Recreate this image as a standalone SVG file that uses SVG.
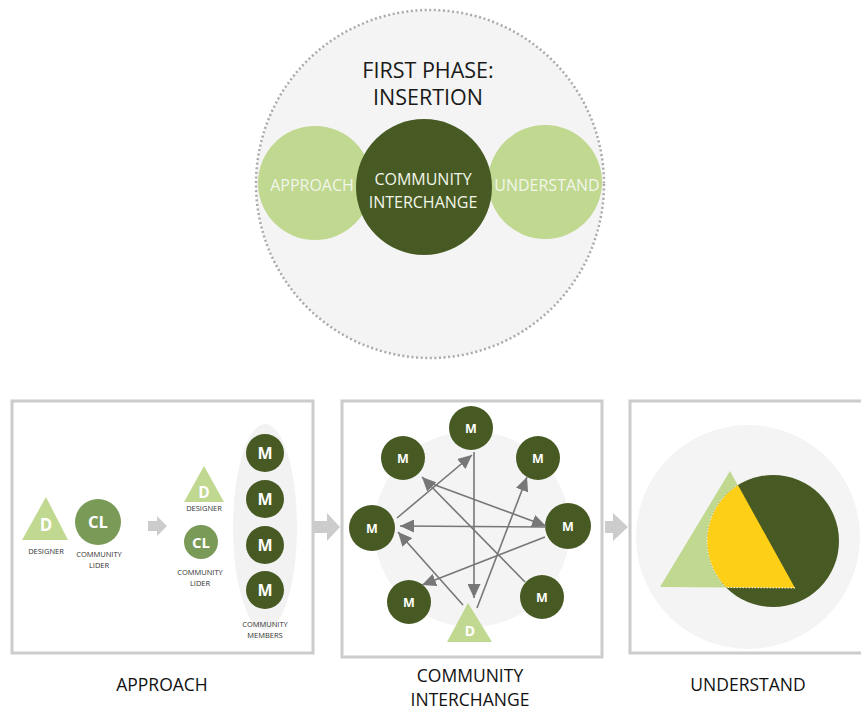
<svg xmlns="http://www.w3.org/2000/svg" width="861" height="712" viewBox="0 0 861 712">
<style>
  .dk{fill:#475a23}
  .lg{fill:#c0d890}
  .md{fill:#7a9a58}
  .bg{fill:#f4f4f4}
  .box{fill:#ffffff;stroke:#cccccc;stroke-width:3}
  .blk{fill:#cccccc}
  .t{font-family:"Open Sans","Liberation Sans",sans-serif;text-anchor:middle}
  .ttl{font-size:21.5px;fill:#1a1a1a}
  .tin{font-size:16px;fill:#f2f6ea}
  .lbl{font-size:17.5px;fill:#111111}
  .sm{font-size:7.5px;fill:#333333}
  .w{fill:#ffffff;font-weight:bold}
  .cn{stroke:#777777;stroke-width:1.6;fill:none;marker-end:url(#ah)}
</style>
<defs>
  <marker id="ah" markerUnits="userSpaceOnUse" markerWidth="15" markerHeight="13" refX="14" refY="6.5" orient="auto">
    <path d="M0,0 L14,6.5 L0,13 Z" fill="#777777"/>
  </marker>
</defs>
<rect width="861" height="712" fill="#ffffff"/>

<!-- Top phase -->
<g id="phase">
  <circle cx="430" cy="184" r="174" fill="#f4f4f4" stroke="#aaaaaa" stroke-width="2.5" stroke-dasharray="2 2.6"/>
  <text class="t ttl" x="428" y="78">FIRST PHASE:</text>
  <text class="t ttl" x="428" y="105">INSERTION</text>
</g>
<g id="top-approach">
  <circle class="lg" cx="315" cy="183" r="57"/>
  <text class="t tin" x="312" y="191">APPROACH</text>
</g>
<g id="top-understand">
  <circle class="lg" cx="545" cy="182" r="57"/>
  <text class="t tin" x="547" y="191">UNDERSTAND</text>
</g>
<g id="top-interchange">
  <circle class="dk" cx="424" cy="187" r="68"/>
  <text class="t tin" x="423" y="185" font-size="17.5">COMMUNITY</text>
  <text class="t tin" x="423" y="208" font-size="17.5">INTERCHANGE</text>
</g>

<!-- Boxes -->
<g id="box-approach">
  <rect class="box" x="12" y="401" width="301" height="252"/>
  <polygon class="blk" points="148,521 157,521 157,516 167,526 157,536 157,531 148,531"/>
  <ellipse cx="265" cy="527" rx="32" ry="103" fill="#f2f2f2"/>
</g>
<g id="box-interchange">
  <rect class="box" x="342" y="401" width="260" height="256"/>
  <circle class="bg" cx="472" cy="529" r="98"/>
</g>
<g id="box-understand">
  <rect class="box" x="630" y="401" width="240" height="252"/>
  <circle class="bg" cx="748" cy="537" r="112"/>
</g>
<g id="flow-arrows">
  <polygon class="blk" points="313,521 327,521 327,513 340,527 327,541 327,533 313,533"/>
  <polygon class="blk" points="605,521 613,521 613,513 628,527 613,541 613,533 605,533"/>
</g>

<!-- Approach box nodes -->
<g id="a-designer">
  <polygon class="lg" points="46,497 22,540 68,540"/>
  <text class="t w" x="46" y="531" font-size="17">D</text>
  <text class="t sm" x="46" y="554">DESIGNER</text>
</g>
<g id="a-leader">
  <circle class="md" cx="98" cy="522" r="23"/>
  <text class="t w" x="98" y="528" font-size="16.5">CL</text>
  <text class="t sm" x="99" y="557">COMMUNITY</text>
  <text class="t sm" x="99" y="568">LIDER</text>
</g>
<g id="a-designer2">
  <polygon class="lg" points="204,466 184,502 224,502"/>
  <text class="t w" x="204" y="498" font-size="15.5">D</text>
  <text class="t sm" x="204" y="511">DESIGNER</text>
</g>
<g id="a-leader2">
  <circle class="md" cx="201" cy="542" r="17"/>
  <text class="t w" x="201" y="548" font-size="15">CL</text>
  <text class="t sm" x="200" y="575">COMMUNITY</text>
  <text class="t sm" x="200" y="586">LIDER</text>
</g>
<g id="a-members">
  <circle class="dk" cx="265" cy="453" r="19"/>
  <text class="t w" x="265" y="459" font-size="16">M</text>
  <circle class="dk" cx="265" cy="499" r="19"/>
  <text class="t w" x="265" y="505" font-size="16">M</text>
  <circle class="dk" cx="265" cy="545" r="19"/>
  <text class="t w" x="265" y="551" font-size="16">M</text>
  <circle class="dk" cx="265" cy="590" r="19"/>
  <text class="t w" x="265" y="596" font-size="16">M</text>
  <text class="t sm" x="265" y="627">COMMUNITY</text>
  <text class="t sm" x="265" y="638">MEMBERS</text>
</g>

<!-- Interchange nodes -->
<g id="m-top"><circle class="dk" cx="471" cy="428" r="22"/><text class="t w" x="471" y="433" font-size="12.5">M</text></g>
<g id="m-ul"><circle class="dk" cx="403" cy="458" r="22"/><text class="t w" x="403" y="463" font-size="12.5">M</text></g>
<g id="m-ur"><circle class="dk" cx="538" cy="458" r="22"/><text class="t w" x="538" y="463" font-size="12.5">M</text></g>
<g id="m-l"><circle class="dk" cx="372" cy="528" r="23"/><text class="t w" x="372" y="533" font-size="12.5">M</text></g>
<g id="m-r"><circle class="dk" cx="568" cy="526" r="23"/><text class="t w" x="568" y="531" font-size="12.5">M</text></g>
<g id="m-ll"><circle class="dk" cx="409" cy="602" r="22"/><text class="t w" x="409" y="607" font-size="12.5">M</text></g>
<g id="m-lr"><circle class="dk" cx="542" cy="597" r="22"/><text class="t w" x="542" y="602" font-size="12.5">M</text></g>

<g id="connectors">
  <line class="cn" x1="397" y1="518" x2="472" y2="455"/>
  <line class="cn" x1="474" y1="452" x2="474" y2="598"/>
  <line class="cn" x1="477" y1="608" x2="527" y2="477"/>
  <line class="cn" x1="546" y1="527" x2="400" y2="526"/>
  <line class="cn" x1="525" y1="582" x2="422" y2="477"/>
  <line class="cn" x1="427" y1="482" x2="546" y2="526"/>
  <line class="cn" x1="545" y1="537" x2="422" y2="585"/>
  <line class="cn" x1="463" y1="605" x2="398" y2="532"/>
</g>

<g id="i-designer">
  <polygon class="lg" points="468,603 447,642 492,642"/>
  <text class="t w" x="470" y="636" font-size="14">D</text>
</g>

<!-- Understand -->
<g id="u-shapes">
  <polygon class="lg" points="730,471 660,587 795,588"/>
  <circle class="dk" cx="773" cy="541" r="66"/>
  <path d="M737.9,485.1 L795,588 L726.2,587.5 A66,66 0 0 1 737.9,485.1 Z" fill="#fdd017"/>
  <path d="M795,588 L726.2,587.5 A66,66 0 0 1 737.9,485.1" fill="none" stroke="#ffffff" stroke-width="1" stroke-dasharray="1.5 1.5"/>
</g>

<!-- Bottom labels -->
<g id="labels">
  <text class="t lbl" x="162" y="691">APPROACH</text>
  <text class="t lbl" x="470" y="682">COMMUNITY</text>
  <text class="t lbl" x="470" y="706">INTERCHANGE</text>
  <text class="t lbl" x="748" y="691">UNDERSTAND</text>
</g>
</svg>
